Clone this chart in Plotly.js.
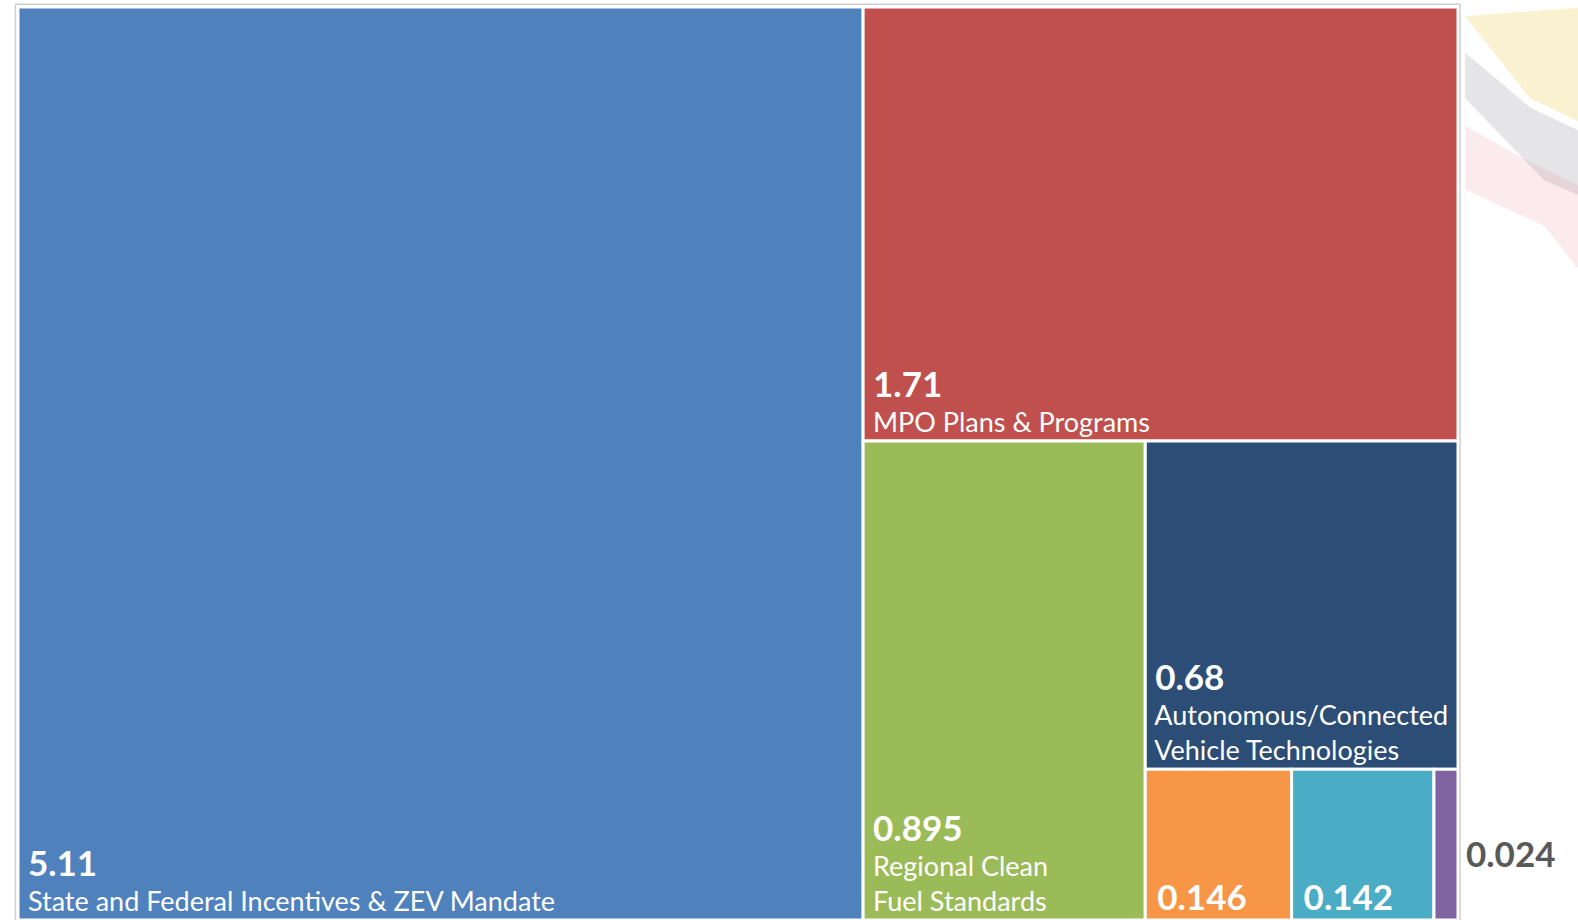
<!DOCTYPE html>
<html>
<head>
<meta charset="utf-8">
<script src="https://cdn.plot.ly/plotly-3.0.1.min.js"></script>
<style>
  html, body { margin: 0; padding: 0; background: #ffffff; overflow: hidden; }
  #chart { width: 1578px; height: 920px; }
</style>
</head>
<body>
<div id="chart"></div>
<script>
// Data
const rootLabel = "Total";
const categories = [
  "State and Federal Incentives & ZEV Mandate",
  "MPO Plans & Programs",
  "Regional Clean<br>Fuel Standards",
  "Autonomous/Connected<br>Vehicle Technologies",
  "Measure E",
  "Measure F",
  "Measure G"
];
const values = [5.11, 1.71, 0.895, 0.68, 0.146, 0.142, 0.024];
const colors = ["#4F81BD", "#C0504D", "#9BBB59", "#2C4D75", "#F79646", "#4BACC6", "#8064A2"];
const showName = [true, true, true, true, false, false, false];
const showInside = [true, true, true, true, true, true, false];

const FONT = "Lato, 'Open Sans', sans-serif";

const labels = [rootLabel].concat(categories);
const parents = [""].concat(categories.map(() => rootLabel));
const vals = [0].concat(values);
const cols = ["rgba(0,0,0,0)"].concat(colors);
const texts = [" "].concat(categories.map((c, i) => {
  if (!showInside[i]) return " ";
  const v = "&nbsp;<span style='font-size:35px'><b>" + values[i] + "</b></span>";
  if (!showName[i]) return v;
  return v + "<br>" + c.split("<br>").map(s => "&nbsp;" + s).join("<br>");
}));
const fontSizes = [10].concat(categories.map((c, i) => showName[i] ? 27 : 35));

const trace = {
  type: "treemap",
  labels: labels,
  parents: parents,
  values: vals,
  text: texts,
  sort: true,
  branchvalues: "remainder",
  marker: { colors: cols, line: { color: "#ffffff", width: 3 }, pad: { t: 0, l: 0, r: 0, b: 0 } },
  tiling: { packing: "squarify", squarifyratio: 1, pad: 0 },
  pathbar: { visible: false },
  texttemplate: "%{text}",
  textposition: "bottom left",
  textfont: { family: FONT, color: "#ffffff", size: fontSizes },
  hoverinfo: "none"
};

const outsideIdx = showInside.indexOf(false);

const layout = {
  width: 1578,
  height: 920,
  margin: { l: 18, r: 120, t: 7, b: 0 },
  paper_bgcolor: "#ffffff",
  showlegend: false,
  shapes: [
    { type: "rect", xref: "paper", yref: "paper", x0: -0.0018, x1: 1.0014, y0: -0.01, y1: 1.003,
      line: { color: "#cfcfcf", width: 1.5 }, fillcolor: "rgba(0,0,0,0)", layer: "above" },
    { type: "path", xref: "paper", yref: "paper", layer: "below",
      path: "M 1.005 0.99 L 1.09 1.0 L 1.09 0.87 L 1.05 0.9 Z",
      fillcolor: "rgba(240,215,120,0.35)", line: { width: 0 } },
    { type: "path", xref: "paper", yref: "paper", layer: "below",
      path: "M 1.005 0.95 L 1.05 0.89 L 1.09 0.86 L 1.09 0.79 L 1.06 0.81 L 1.005 0.9 Z",
      fillcolor: "rgba(150,150,160,0.25)", line: { width: 0 } },
    { type: "path", xref: "paper", yref: "paper", layer: "below",
      path: "M 1.005 0.87 L 1.05 0.83 L 1.09 0.8 L 1.09 0.7 L 1.06 0.76 L 1.005 0.8 Z",
      fillcolor: "rgba(230,120,140,0.15)", line: { width: 0 } }
  ],
  annotations: [
    { xref: "paper", yref: "paper", x: 1.004, y: 0.0734, xanchor: "left", yanchor: "middle",
      text: "<b>" + values[outsideIdx] + "</b>", showarrow: false,
      font: { family: FONT, size: 35, color: "#595959" } }
  ]
};

Plotly.newPlot("chart", [trace], layout, { displayModeBar: false });
</script>
</body>
</html>
